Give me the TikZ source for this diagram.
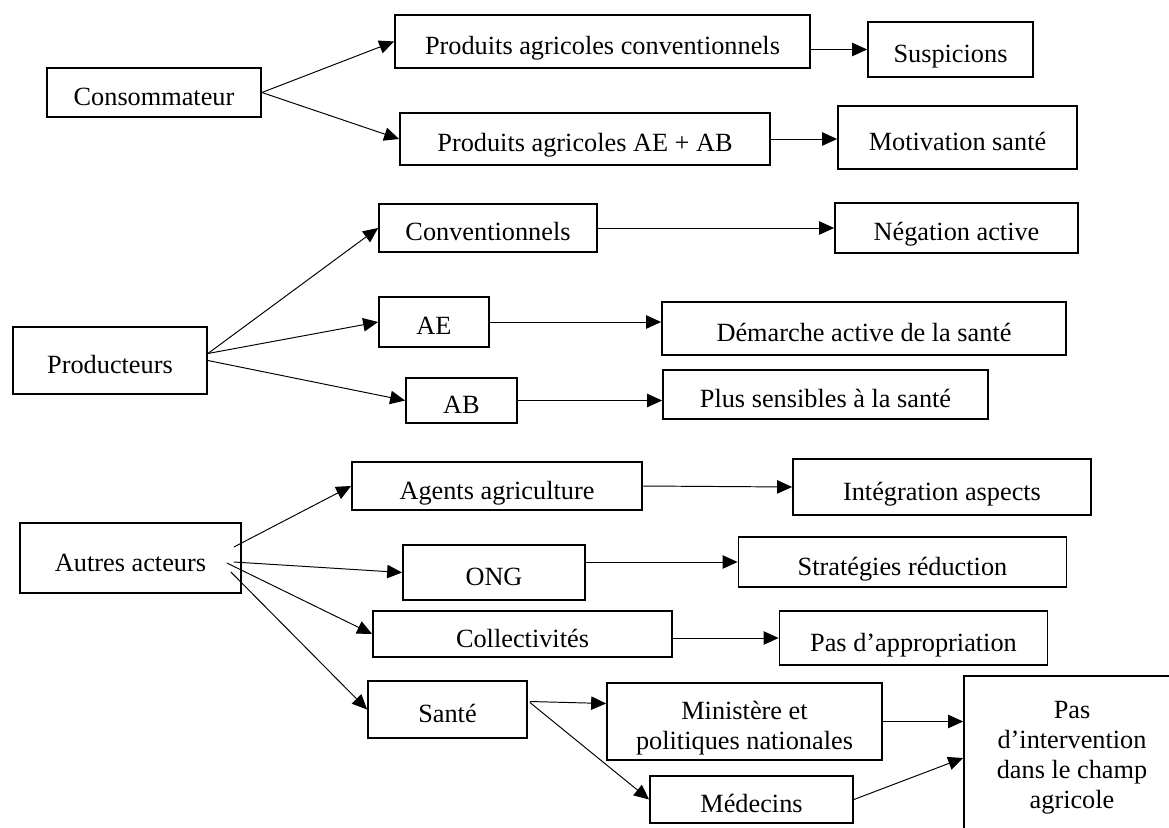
\documentclass[tikz,border=0pt]{standalone}
\usepackage{fontspec}
\setmainfont{Liberation Serif}
\usetikzlibrary{arrows.meta}

\begin{document}
\begin{tikzpicture}[
  x=0.254mm, y=-0.254mm,
  box/.style={
    draw,
    line width=1.3pt,
    align=center,
    inner sep=0pt,
    text height=6.6mm,
    text depth=0pt,
    font=\fontsize{19}{21.6}\selectfont
  },
  multibox/.style={
    box,
    text height=,
    text depth=
  },
  boxsize/.style 2 args={minimum width=#1*0.254mm, minimum height=#2*0.254mm},
  arrow/.style={-{Triangle[length=3.8mm,width=3.4mm]},line width=0.7pt}
]
\useasboundingbox (0,0) rectangle (1169,827);

\node[box,boxsize={214}{49}] (conso) at (154,92.5) {Consommateur};
\node[box,boxsize={415}{53}] (prodconv) at (602.5,41.5) {Produits agricoles conventionnels};
\node[box,boxsize={165}{55}] (suspicions) at (950.5,49.5) {Suspicions};
\node[box,boxsize={370}{52}] (prodaeab) at (585,139) {Produits agricoles AE + AB};
\node[box,boxsize={239}{63}] (motivation) at (957.5,137.5) {Motivation santé};

\node[box,boxsize={194}{67}] (producteurs) at (110,360.5) {Producteurs};
\node[box,boxsize={218}{48}] (conventionnels) at (488,228) {Conventionnels};
\node[box,boxsize={243}{50}] (negation) at (956.5,228) {Négation active};
\node[box,boxsize={110}{50}] (ae) at (434,322) {AE};
\node[box,boxsize={404}{53}] (demarche) at (864,328.5) {Démarche active de la santé};
\node[box,boxsize={111}{45}] (ab) at (461.5,400.5) {AB};
\node[box,boxsize={325}{49}] (plus) at (825.5,394.5) {Plus sensibles à la santé};

\node[box,boxsize={221}{70}] (autres) at (130.5,558) {Autres acteurs};
\node[box,boxsize={290}{48}] (agents) at (497,486) {Agents agriculture};
\node[box,boxsize={298}{56}] (integration) at (942,487) {Intégration aspects};
\node[box,boxsize={182}{55}] (ong) at (494,572.5) {ONG};
\node[box,boxsize={328}{50}] (strategies) at (902.5,562) {Stratégies réduction};
\node[box,boxsize={299}{46}] (collectivites) at (522.5,634) {Collectivités};
\node[box,boxsize={268}{54}] (appropriation) at (913.5,638) {Pas d’appropriation};
\node[box,boxsize={159}{57}] (sante) at (447.5,709.5) {Santé};
\node[multibox,boxsize={275}{77}] (ministere) at (744.5,721.5) {\rule{0pt}{1.2em}Ministère et\\politiques nationales};
\node[box,boxsize={203}{47}] (medecins) at (751.5,799.5) {Médecins};
\node[multibox,boxsize={216}{164}] (intervention) at (1072,758) {Pas\\d’intervention\\dans le champ\\agricole};

\draw[arrow] (conso.east) -- (prodconv.west);
\draw[arrow] (conso.east) -- (prodaeab.west);
\draw[arrow] (prodconv.east |- suspicions.west) -- (suspicions.west);
\draw[arrow] (prodaeab.east) -- (prodaeab.east -| motivation.west);

\draw[arrow] ([shift={(0,-7)}]producteurs.east) -- (conventionnels.west);
\draw[arrow] ([shift={(0,-7)}]producteurs.east) -- (ae.west);
\draw[arrow] (producteurs.east) -- (ab.west);
\draw[arrow] (conventionnels.east) -- (negation.west);
\draw[arrow] (ae.east) -- (ae.east -| demarche.west);
\draw[arrow] (ab.east) -- (ab.east -| plus.west);

\draw[arrow] ([shift={(-8,-11)}]autres.east) -- (agents.west);
\draw[arrow] ([shift={(-8,4)}]autres.east) -- (ong.west);
\draw[arrow] ([shift={(-15,5)}]autres.east) -- (collectivites.west);
\draw[arrow] ([shift={(-11,14)}]autres.east) -- (sante.west);
\draw[arrow] (agents.east) -- (integration.west);
\draw[arrow] (ong.east |- strategies.west) -- (strategies.west);
\draw[arrow] (collectivites.east |- appropriation.west) -- (appropriation.west);
\draw[arrow] ([shift={(2,-8)}]sante.east) -- ([shift={(0,-18)}]ministere.west);
\draw[arrow] ([shift={(2,-7)}]sante.east) -- (medecins.west);
\draw[arrow] (ministere.east) -- (ministere.east -| intervention.west);
\draw[arrow] (medecins.east) -- (intervention.west);
\end{tikzpicture}
\end{document}
